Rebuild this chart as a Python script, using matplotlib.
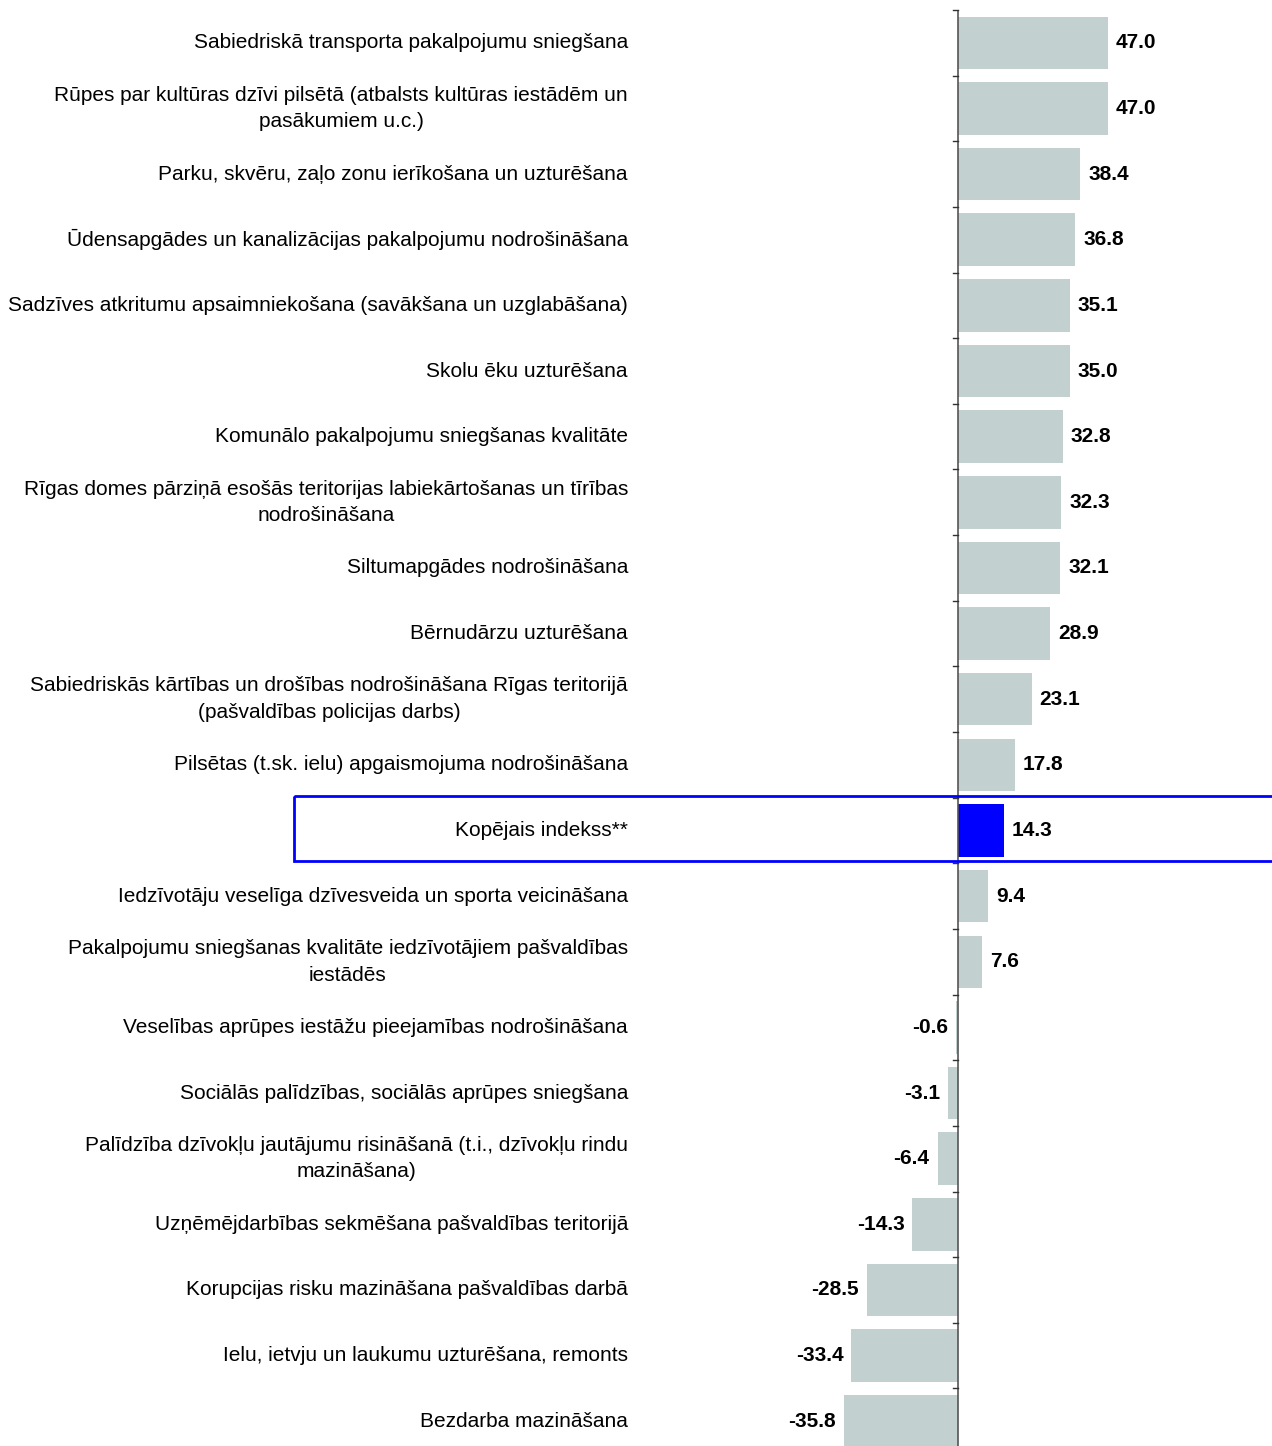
import matplotlib
matplotlib.use("Agg")
import matplotlib.pyplot as plt
from matplotlib.patches import Rectangle
import matplotlib.transforms as mtransforms

plt.rcParams['font.family'] = ['Liberation Sans', 'DejaVu Sans']

categories = [
    "Sabiedriskā transporta pakalpojumu sniegšana",
    "Rūpes par kultūras dzīvi pilsētā (atbalsts kultūras iestādēm un\npasākumiem u.c.)",
    "Parku, skvēru, zaļo zonu ierīkošana un uzturēšana",
    "Ūdensapgādes un kanalizācijas pakalpojumu nodrošināšana",
    "Sadzīves atkritumu apsaimniekošana (savākšana un uzglabāšana)",
    "Skolu ēku uzturēšana",
    "Komunālo pakalpojumu sniegšanas kvalitāte",
    "Rīgas domes pārziņā esošās teritorijas labiekārtošanas un tīrības\nnodrošināšana",
    "Siltumapgādes nodrošināšana",
    "Bērnudārzu uzturēšana",
    "Sabiedriskās kārtības un drošības nodrošināšana Rīgas teritorijā\n(pašvaldības policijas darbs)",
    "Pilsētas (t.sk. ielu) apgaismojuma nodrošināšana",
    "Kopējais indekss**",
    "Iedzīvotāju veselīga dzīvesveida un sporta veicināšana",
    "Pakalpojumu sniegšanas kvalitāte iedzīvotājiem pašvaldības\niestādēs",
    "Veselības aprūpes iestāžu pieejamības nodrošināšana",
    "Sociālās palīdzības, sociālās aprūpes sniegšana",
    "Palīdzība dzīvokļu jautājumu risināšanā (t.i., dzīvokļu rindu\nmazināšana)",
    "Uzņēmējdarbības sekmēšana pašvaldības teritorijā",
    "Korupcijas risku mazināšana pašvaldības darbā",
    "Ielu, ietvju un laukumu uzturēšana, remonts",
    "Bezdarba mazināšana",
]
values = [47.0, 47.0, 38.4, 36.8, 35.1, 35.0, 32.8, 32.3, 32.1, 28.9, 23.1,
          17.8, 14.3, 9.4, 7.6, -0.6, -3.1, -6.4, -14.3, -28.5, -33.4, -35.8]
highlight = "Kopējais indekss**"

W, H = 1272, 1446
fig = plt.figure(figsize=(W / 100, H / 100), dpi=100)
top_px = 10
row_h = 65.64
n = len(categories)
bottom_px = top_px + n * row_h  # extends below image
ax = fig.add_axes([0, 1 - bottom_px / H, 1, (bottom_px - top_px) / H])

px_per_unit = 3.19
x0_px = 958
ax.set_xlim(-x0_px / px_per_unit, (W - x0_px) / px_per_unit)
ax.set_ylim(n - 0.5, -0.5)

grey = "#C2D1CF"
blue = "#0000FF"
colors = [blue if c == highlight else grey for c in categories]
ypos = list(range(n))
ax.barh(ypos, values, height=0.8, color=colors, edgecolor='none', zorder=2)

for s in ax.spines.values():
    s.set_visible(False)
ax.axvline(0, color="#555555", lw=1.2, zorder=3)
ax.set_xticks([])
ax.set_yticks([])
for i in range(n):
    ax.plot([-5 / px_per_unit, 0], [i - 0.5, i - 0.5], color='#333333', lw=1, zorder=3, clip_on=False)

fs = 15
lab_trans = mtransforms.blended_transform_factory(fig.transFigure, ax.transData)
for i, (c, v) in enumerate(zip(categories, values)):
    ax.text(628 / W, i, c, transform=lab_trans, ha='right', va='center',
            multialignment='center', fontsize=fs, color='#000000', linespacing=1.5)
    off = 8 / px_per_unit
    if v >= 0:
        ax.text(v + off, i, f"{v:.1f}", ha='left', va='center', fontsize=fs,
                fontweight='bold', color='#000000')
    else:
        ax.text(v - off, i, f"{v:.1f}", ha='right', va='center', fontsize=fs,
                fontweight='bold', color='#000000')

hi = categories.index(highlight)
rect = Rectangle((294 / W, hi - 0.5 - 0.02), 1.0, 0.99, transform=lab_trans,
                 fill=False, edgecolor=blue, lw=2, clip_on=False, zorder=4)
ax.add_patch(rect)

fig.savefig("out.png", dpi=100)
